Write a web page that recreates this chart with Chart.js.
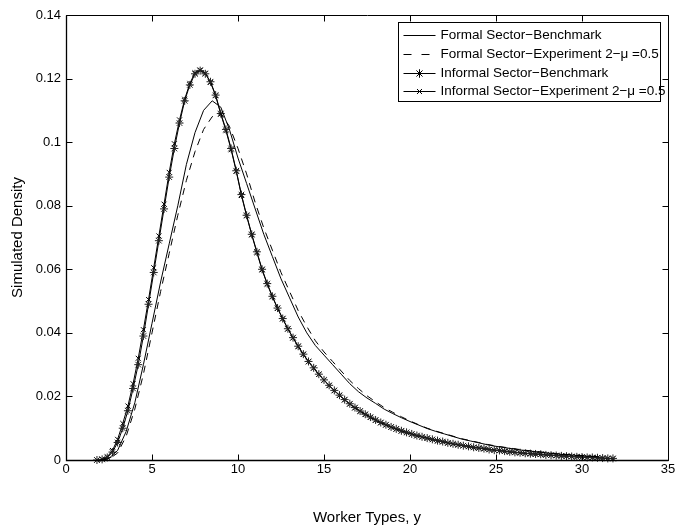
<!DOCTYPE html>
<html>
<head>
<meta charset="utf-8">
<script src="https://cdn.jsdelivr.net/npm/chart.js@4.4.1/dist/chart.umd.min.js"></script>
<style>
  html, body { margin: 0; padding: 0; background: #fff; }
  #wrap { width: 694px; height: 529px; }
</style>
</head>
<body>
<div id="wrap"><canvas id="c" width="694" height="529"></canvas></div>
<script>
// ---- data ----
const xInformal = [1.8,2.1,2.4,2.7,3.0,3.3,3.6,3.9,4.2,4.5,4.8,5.1,5.4,5.7,6.0,6.3,6.6,6.9,7.2,7.5,
  7.8,8.1,8.4,8.7,9.0,9.3,9.6,9.9,10.2,10.5,10.8,11.1,11.4,11.7,12.0,12.3,12.6,12.9,13.2,13.5,
  13.8,14.1,14.4,14.7,15.0,15.3,15.6,15.9,16.2,16.5,16.8,17.1,17.4,17.7,18.0,18.3,18.6,18.9,19.2,19.5,
  19.8,20.1,20.4,20.7,21.0,21.3,21.6,21.9,22.2,22.5,22.8,23.1,23.4,23.7,24.0,24.3,24.6,24.9,25.2,25.5,
  25.8,26.1,26.4,26.7,27.0,27.3,27.6,27.9,28.2,28.5,28.8,29.1,29.4,29.7,30.0,30.3,30.6,30.9,31.2,31.5,31.8];

const informalBenchmark = [0,0.0002,0.0008,0.0025,0.0055,0.010,0.0155,0.0225,0.030,0.039,
  0.049,0.059,0.069,0.079,0.089,0.098,0.106,0.113,0.118,0.1215,
  0.1225,0.1215,0.119,0.1148,0.109,0.104,0.098,0.091,0.0835,0.077,
  0.071,0.0655,0.060,0.0555,0.0515,0.0478,0.0445,0.0413,0.0385,0.0358,
  0.0333,0.031,0.029,0.027,0.0252,0.0235,0.0219,0.0204,0.019,0.0177,
  0.0165,0.0154,0.0144,0.0135,0.0126,0.0118,0.0111,0.0104,0.0098,0.0092,
  0.0087,0.0082,0.0077,0.0073,0.0069,0.0065,0.0061,0.0058,0.0054,0.0051,
  0.0048,0.0045,0.0043,0.0040,0.0038,0.0036,0.0033,0.0031,0.0030,0.0028,
  0.0026,0.0024,0.0023,0.0021,0.0020,0.0019,0.0018,0.0016,0.0015,0.0014,
  0.0013,0.0012,0.0011,0.0010,0.0009,0.0008,0.0008,0.0007,0.0006,0.0005,0.0005];

const informalExperiment = [0,0.0003,0.001,0.003,0.0065,0.0115,0.017,0.024,0.032,0.041,
  0.0505,0.0605,0.0705,0.0805,0.0905,0.0995,0.107,0.1135,0.1185,0.1218,
  0.1227,0.1217,0.1188,0.1146,0.1088,0.1036,0.0976,0.0908,0.0832,0.0768,
  0.0708,0.0652,0.0598,0.0553,0.0513,0.0477,0.0444,0.0412,0.0384,0.0357,
  0.0332,0.0309,0.0289,0.0269,0.0251,0.0234,0.0218,0.0203,0.0189,0.0176,
  0.0164,0.0153,0.0143,0.0134,0.0125,0.0117,0.011,0.0103,0.0097,0.0091,
  0.0086,0.0081,0.0076,0.0072,0.0068,0.0064,0.006,0.0057,0.0053,0.005,
  0.0047,0.0045,0.0042,0.0039,0.0037,0.0035,0.0033,0.0031,0.0029,0.0027,
  0.0025,0.0024,0.0022,0.0021,0.0019,0.0018,0.0017,0.0016,0.0015,0.0014,
  0.0013,0.0012,0.0011,0.001,0.0009,0.0008,0.0007,0.0007,0.0006,0.0005,0.0004];

const xFormal = [2.0,2.5,3.0,3.5,4.0,4.5,5.0,5.5,6.0,6.5,7.0,7.5,8.0,8.5,9.0,9.5,10.0,10.5,11.0,11.5,
  12.0,12.5,13.0,13.5,14.0,14.5,15.0,15.5,16.0,16.5,17.0,17.5,18.0,18.5,19.0,19.5,20.0,20.5,21.0,21.5,
  22.0,22.5,23.0,23.5,24.0,24.5,25.0,25.5,26.0,26.5,27.0,27.5,28.0,28.5,29.0,29.5,30.0,30.5,31.0];

const formalBenchmark = [0,0.0005,0.003,0.009,0.018,0.030,0.043,0.056,0.068,0.080,
  0.093,0.103,0.110,0.113,0.111,0.104,0.095,0.087,0.079,0.071,
  0.064,0.057,0.051,0.045,0.040,0.036,0.033,0.030,0.027,0.024,
  0.0215,0.0195,0.0178,0.016,0.0146,0.0133,0.0121,0.011,0.0099,0.009,
  0.0082,0.0074,0.0066,0.006,0.0054,0.0048,0.0043,0.0039,0.0035,0.0031,
  0.0028,0.0025,0.0022,0.0019,0.0017,0.0015,0.0013,0.0011,0.001];

const formalExperiment = [0,0.0003,0.0022,0.0075,0.016,0.027,0.040,0.053,0.065,0.077,
  0.088,0.097,0.104,0.108,0.109,0.105,0.098,0.090,0.081,0.073,
  0.066,0.059,0.053,0.047,0.042,0.0375,0.034,0.031,0.028,0.025,
  0.0225,0.0202,0.0183,0.0165,0.015,0.0136,0.0123,0.0111,0.01,0.0091,
  0.0083,0.0075,0.0067,0.0061,0.0055,0.0049,0.0044,0.004,0.0036,0.0032,
  0.0029,0.0026,0.0023,0.002,0.0018,0.0016,0.0014,0.0012,0.001];

const xTicks = [0,5,10,15,20,25,30,35];
const yTicks = [0,0.02,0.04,0.06,0.08,0.1,0.12,0.14];
const seriesLabels = [
  'Formal Sector\u2212Benchmark',
  'Formal Sector\u2212Experiment 2\u2212\u03bc =0.5',
  'Informal Sector\u2212Benchmark',
  'Informal Sector\u2212Experiment 2\u2212\u03bc =0.5'
];
const xTitle = 'Worker Types, y';
const yTitle = 'Simulated Density';

// ---- build datasets ----
function pts(xs, ys) {
  const n = Math.min(xs.length, ys.length);
  const out = [];
  for (let i = 0; i < n; i++) out.push({x: xs[i], y: ys[i]});
  return out;
}
const FONT = "'Liberation Sans', Arial, Helvetica, sans-serif";

const datasets = [
  {label: seriesLabels[0], data: pts(xFormal, formalBenchmark), borderColor: '#000', borderWidth: 1,
   pointRadius: 0, borderDash: [], _marker: null},
  {label: seriesLabels[1], data: pts(xFormal, formalExperiment), borderColor: '#000', borderWidth: 1,
   pointRadius: 0, borderDash: [7, 6], _marker: null},
  {label: seriesLabels[2], data: pts(xInformal, informalBenchmark), borderColor: '#000', borderWidth: 1,
   pointStyle: 'star', pointRadius: 4, pointBorderColor: '#222', pointBorderWidth: 1,
   pointBackgroundColor: '#000', borderDash: [], _marker: 'star'},
  {label: seriesLabels[3], data: pts(xInformal, informalExperiment), borderColor: '#000', borderWidth: 1,
   pointStyle: 'crossRot', pointRadius: 3.5, pointBorderColor: '#000', pointBorderWidth: 1,
   pointBackgroundColor: '#000', borderDash: [], _marker: 'crossRot'}
];
datasets.forEach(d => { d.fill = false; d.tension = 0; d.clip = false; });

// ---- frame with inward ticks + MATLAB-like legend ----
const framePlugin = {
  id: 'framePlugin',
  afterDatasetsDraw(chart) {
    const {ctx, chartArea: a, scales} = chart;
    const xs = scales.x, ys = scales.y;
    ctx.save();
    ctx.strokeStyle = '#000';
    ctx.lineWidth = 1;
    const L = Math.round(a.left) + 0.5, R = Math.round(a.right) + 0.5;
    const T = Math.round(a.top) + 0.5, B = Math.round(a.bottom) + 0.5;
    ctx.beginPath();
    ctx.rect(L, T, R - L, B - T);
    const tl = 6;
    xTicks.forEach(v => {
      const p = Math.round(xs.getPixelForValue(v)) + 0.5;
      ctx.moveTo(p, B); ctx.lineTo(p, B - tl);
      ctx.moveTo(p, T); ctx.lineTo(p, T + tl);
    });
    yTicks.forEach(v => {
      const p = Math.round(ys.getPixelForValue(v)) + 0.5;
      ctx.moveTo(L, p); ctx.lineTo(L + tl, p);
      ctx.moveTo(R, p); ctx.lineTo(R - tl, p);
    });
    ctx.stroke();
    ctx.lineWidth = 1.3;
    ctx.beginPath();
    ctx.moveTo(L, T); ctx.lineTo(L, B); ctx.lineTo(R, B);
    ctx.stroke();

    // legend
    const boxL = Math.round(a.right - 270) + 0.5;
    const boxT = Math.round(a.top + 7) + 0.5;
    const boxW = 262, boxH = 79;
    ctx.fillStyle = '#fff';
    ctx.fillRect(boxL, boxT, boxW, boxH);
    ctx.lineWidth = 1;
    ctx.strokeStyle = '#000';
    ctx.strokeRect(boxL, boxT, boxW, boxH);
    ctx.font = '13.5px ' + FONT;
    ctx.textBaseline = 'middle';
    ctx.textAlign = 'left';
    const rowH = 18.8;
    chart.data.datasets.forEach((d, i) => {
      const cy = Math.round(boxT + 12.5 + i * rowH) + 0.5;
      const x0 = boxL + 5, x1 = boxL + 37;
      ctx.strokeStyle = '#000';
      ctx.lineWidth = 1;
      ctx.setLineDash(d.borderDash && d.borderDash.length ? [8, 10] : []);
      ctx.beginPath(); ctx.moveTo(x0, cy); ctx.lineTo(x1, cy); ctx.stroke();
      ctx.setLineDash([]);
      if (d._marker) {
        Chart.helpers.drawPoint(ctx, {pointStyle: d._marker, radius: d._marker === 'star' ? 4 : 3.5,
          borderWidth: 1, rotation: 0}, (x0 + x1) / 2, cy);
        ctx.stroke();
      }
      ctx.fillStyle = '#000';
      ctx.fillText(d.label, boxL + 42, cy);
    });
    ctx.restore();
  }
};

new Chart(document.getElementById('c'), {
  type: 'line',
  data: {datasets},
  plugins: [framePlugin],
  options: {
    responsive: false,
    animation: false,
    devicePixelRatio: 1,
    layout: {padding: {left: 0, top: 15, right: 26, bottom: 0}},
    plugins: {legend: {display: false}, tooltip: {enabled: false}},
    elements: {line: {borderJoinStyle: 'round'}},
    scales: {
      x: {
        type: 'linear', min: 0, max: 35,
        afterBuildTicks: s => { s.ticks = xTicks.map(v => ({value: v})); },
        afterFit: s => { s.height = 69; },
        grid: {display: false, drawTicks: false},
        border: {display: false},
        ticks: {color: '#000', font: {family: FONT, size: 13}, padding: 2, maxRotation: 0,
          callback: v => String(v)},
        title: {display: true, text: xTitle, color: '#000', font: {family: FONT, size: 15},
          padding: {top: 0, bottom: 2}}
      },
      y: {
        type: 'linear', min: 0, max: 0.14,
        afterBuildTicks: s => { s.ticks = yTicks.map(v => ({value: v})); },
        afterFit: s => { s.width = 66; },
        grid: {display: false, drawTicks: false},
        border: {display: false},
        ticks: {color: '#000', font: {family: FONT, size: 13}, padding: 5,
          callback: v => String(+(+v).toFixed(2))},
        title: {display: true, text: yTitle, color: '#000', font: {family: FONT, size: 15},
          padding: {top: 9, bottom: 0}}
      }
    }
  }
});
</script>
</body>
</html>
